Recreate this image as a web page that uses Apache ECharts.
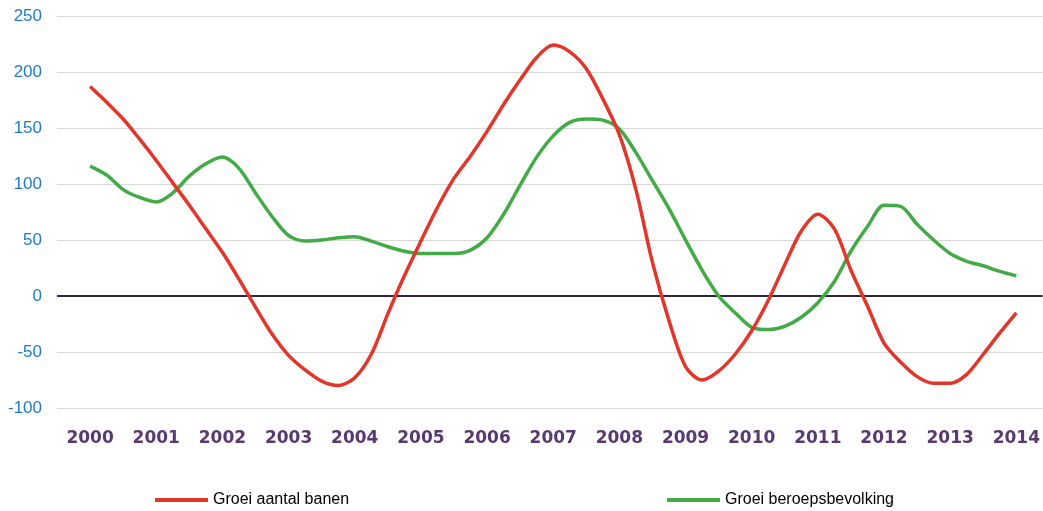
<!DOCTYPE html>
<html>
<head>
<meta charset="utf-8">
<script src="https://cdn.jsdelivr.net/npm/echarts@6/dist/echarts.min.js"></script>
<style>
  html, body { margin: 0; padding: 0; background: #fff; }
  #chart { width: 1043px; height: 511px; }
</style>
</head>
<body>
<div id="chart"></div>
<script>
// kwartalen 2000 t/m 2014
var years = [2000, 2001, 2002, 2003, 2004, 2005, 2006, 2007, 2008, 2009, 2010, 2011, 2012, 2013, 2014];
var quarters = [];
for (var i = 0; i <= 56; i++) quarters.push(2000 + i / 4);

var banen = [
  187, 173, 158, 140, 121, 101, 81, 60,
  39, 15, -10, -34, -53, -66, -76, -80,
  -73, -52, -16, 18, 49, 79, 105, 125,
  147, 171, 193, 213, 224, 218, 203, 176,
  144, 95, 30, -22, -63, -75, -67, -52,
  -31, -4, 28, 58, 73, 60, 23, -9,
  -42, -59, -72, -78, -78, -70, -52, -33,
  -15
];
var beroeps = [
  116, 108, 95, 88, 84, 92, 107, 118,
  124, 114, 92, 71, 54, 49, 50, 52,
  53, 49, 44, 40, 38, 38, 38, 41,
  52, 73, 99, 124, 143, 155, 158, 157,
  149, 128, 103, 78, 50, 23, 0, -15,
  -28, -30, -27, -19, -6, 13, 40, 62,
  81, 80, 64, 50, 38, 31, 27, 22,
  18
];

function pairs(vals) {
  return vals.map(function (v, i) { return [quarters[i], v]; });
}

var chart = echarts.init(document.getElementById("chart"));
chart.setOption({
  animation: false,
  grid: {
    left: 57,
    top: 16,
    right: 0,
    bottom: 103,
  },
  legend: [
    {
      data: ["Groei aantal banen"],
      left: 155,
      top: 492,
      padding: 0,
      icon: "rect",
      itemWidth: 53,
      itemHeight: 4,
      textStyle: { fontFamily: "Liberation Sans", fontSize: 16, color: "#000" },
    },
    {
      data: ["Groei beroepsbevolking"],
      left: 667,
      top: 492,
      padding: 0,
      icon: "rect",
      itemWidth: 53,
      itemHeight: 4,
      textStyle: { fontFamily: "Liberation Sans", fontSize: 16, color: "#000" },
    },
  ],
  xAxis: {
    type: "value",
    min: 1999.5,
    max: 2014.396,
    axisLine: { show: false },
    axisTick: { show: false },
    splitLine: { show: false },
    axisLabel: {
      customValues: years,
      margin: 22,
      lineHeight: 17,
      fontFamily: "DejaVu Sans",
      fontWeight: "bold",
      fontSize: 17,
      color: "#5a3872",
      formatter: function (v) { return String(v); },
    },
  },
  yAxis: {
    type: "value",
    min: -100,
    max: 250,
    interval: 50,
    axisLine: { show: false },
    axisTick: { show: false },
    axisLabel: {
      margin: 15,
      fontFamily: "Liberation Sans",
      fontSize: 17,
      color: "#1f7cc4",
    },
    splitLine: { lineStyle: { color: "#d9d9d9", width: 1 } },
  },
  series: [
    {
      name: "Groei aantal banen",
      type: "line",
      smooth: 0.3,
      showSymbol: false,
      data: pairs(banen),
      lineStyle: { color: "#e3352a", width: 3.5 },
      itemStyle: { color: "#e3352a" },
      z: 3,
      markLine: {
        silent: true,
        symbol: "none",
        label: { show: false },
        lineStyle: { color: "#33243f", width: 2, type: "solid" },
        data: [{ yAxis: 0 }],
        z: 1,
      },
    },
    {
      name: "Groei beroepsbevolking",
      type: "line",
      smooth: 0.3,
      showSymbol: false,
      data: pairs(beroeps),
      lineStyle: { color: "#43ab45", width: 3.5 },
      itemStyle: { color: "#43ab45" },
      z: 2,
    },
  ],
});
</script>
</body>
</html>
